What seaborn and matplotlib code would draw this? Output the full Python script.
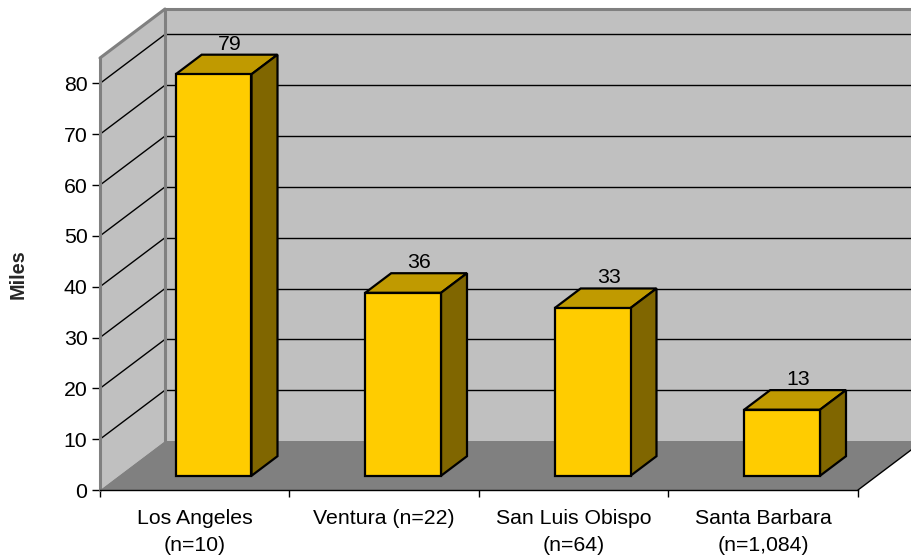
import numpy as np
import pandas as pd
import matplotlib
matplotlib.use("Agg")
import matplotlib.pyplot as plt
import seaborn as sns
from matplotlib.patches import Polygon
from matplotlib.lines import Line2D
from matplotlib.transforms import ScaledTranslation

# ---- data ----
counties = ["Los Angeles\n(n=10)", "Ventura (n=22)",
            "San Luis Obispo\n(n=64)", "Santa Barbara\n(n=1,084)"]
miles = [79, 36, 33, 13]
y_ticks = [0, 10, 20, 30, 40, 50, 60, 70, 80]
y_max = 85

# ---- style ----
sns.set_style("white")
plt.rcParams["font.family"] = ["Liberation Sans", "DejaVu Sans"]

FRONT = "#FFCC00"
TOP = "#C09A00"
SIDE = "#806600"
WALL = "#C0C0C0"
FLOOR = "#808080"
EDGE = "#808080"
FS = 15.3

fig = plt.figure(figsize=(9.12, 5.57), dpi=100)
ax = fig.add_axes([100 / 912, 67 / 557, 758 / 912, 432 / 557])

df = pd.DataFrame({"county": counties, "miles": miles})
sns.barplot(data=df, x="county", y="miles", color=FRONT, saturation=1,
            width=0.4, edgecolor="black", linewidth=1.6, ax=ax, zorder=6)
ax.set_xlim(-0.5, 3.5)
ax.set_ylim(0, y_max)
ax.set_xlabel("")
ax.set_ylabel("")
ax.patch.set_visible(False)

# oblique depth direction of the 3-D box (inches: right, up)
DEPTH = np.array([0.65, 0.49])
D0, D1 = 0.29, 0.69  # front and back of the bars


def to_fig(x, y, d):
    p = ax.transData.transform((x, y)) + d * DEPTH * fig.dpi
    return fig.transFigure.inverted().transform(p)


def poly(pts, **kw):
    ax.add_patch(Polygon(np.array(pts), closed=True, transform=fig.transFigure,
                         clip_on=False, **kw))


def seg(p, q, **kw):
    ax.add_line(Line2D([p[0], q[0]], [p[1], q[1]], transform=fig.transFigure,
                       clip_on=False, **kw))


x_lo, x_hi, x_far = -0.5, 3.5, 3.9

# walls and floor
poly([to_fig(x_lo, 0, 1), to_fig(x_lo, y_max, 1), to_fig(x_far, y_max, 1),
      to_fig(x_far, 0, 1)], facecolor=WALL, edgecolor="none", zorder=0.5)
poly([to_fig(x_lo, 0, 0), to_fig(x_lo, y_max, 0), to_fig(x_lo, y_max, 1),
      to_fig(x_lo, 0, 1)], facecolor=WALL, edgecolor="none", zorder=0.5)

for v in y_ticks[1:]:
    seg(to_fig(x_lo, v, 1), to_fig(x_far, v, 1), color="black", lw=1, zorder=0.8)
    seg(to_fig(x_lo, v, 0), to_fig(x_lo, v, 1), color="black", lw=1, zorder=0.8)

poly([to_fig(x_lo, 0, 0), to_fig(x_hi, 0, 0), to_fig(x_hi, 0, 1),
      to_fig(x_lo, 0, 1)], facecolor=FLOOR, edgecolor="none", zorder=1)

# wall edges
seg(to_fig(x_lo, y_max, 1), to_fig(x_far, y_max, 1), color=EDGE, lw=2.2, zorder=1.2)
seg(to_fig(x_lo, 0, 1), to_fig(x_lo, y_max, 1), color=EDGE, lw=2.2, zorder=1.2)
seg(to_fig(x_lo, y_max, 0), to_fig(x_lo, y_max, 1), color=EDGE, lw=2.2, zorder=1.2)
seg(to_fig(x_lo, 0, 0), to_fig(x_lo, y_max, 0), color=EDGE, lw=2.2, zorder=1.2)
seg(to_fig(x_hi, 0, 0), to_fig(x_hi, 0, 1), color="black", lw=1, zorder=1.2)

# bars: move front faces back, then add tops and sides
shift = ScaledTranslation(D0 * DEPTH[0], D0 * DEPTH[1], fig.dpi_scale_trans)
for patch, val in zip(ax.patches, miles):
    patch.set_transform(ax.transData + shift)
    x0 = patch.get_x()
    x1 = x0 + patch.get_width()
    h = patch.get_height()
    poly([to_fig(x0, h, D0), to_fig(x1, h, D0), to_fig(x1, h, D1), to_fig(x0, h, D1)],
         facecolor=TOP, edgecolor="black", lw=1.6, joinstyle="miter", zorder=5)
    poly([to_fig(x1, 0, D0), to_fig(x1, h, D0), to_fig(x1, h, D1), to_fig(x1, 0, D1)],
         facecolor=SIDE, edgecolor="black", lw=1.6, joinstyle="miter", zorder=5)
    lx, ly = to_fig((x0 + x1) / 2, h, 0.54)
    _, by = to_fig(x1, h, D1)
    fig.text(lx, by + 5 / 557, f"{val:g}", ha="center", va="baseline",
             fontsize=FS, color="black", zorder=7)

# axes
for s in ("top", "right"):
    ax.spines[s].set_visible(False)
ax.spines["left"].set_visible(False)
ax.spines["bottom"].set_color("black")
ax.spines["bottom"].set_linewidth(1)
ax.spines["bottom"].set_zorder(2)

ax.set_yticks(y_ticks)
ax.tick_params(axis="y", direction="out", left=True, length=6, width=1,
               pad=3, labelsize=FS, colors="black")
ax.set_xticks([-0.5, 0.5, 1.5, 2.5, 3.5])
ax.set_xticklabels([])
ax.set_xticks(range(len(counties)), minor=True)
ax.set_xticklabels(counties, minor=True, linespacing=1.55)
ax.tick_params(axis="x", which="major", direction="out", bottom=True,
               length=5, width=1, color="black")
ax.tick_params(axis="x", which="minor", bottom=True, length=0, pad=13.5,
               labelsize=FS, labelcolor="black")

fig.text(18 / 912, 1 - 274 / 557, "Miles", rotation=90, ha="center",
         va="center", fontsize=14.3, fontweight="bold")

fig.savefig("out.png", dpi=100)
